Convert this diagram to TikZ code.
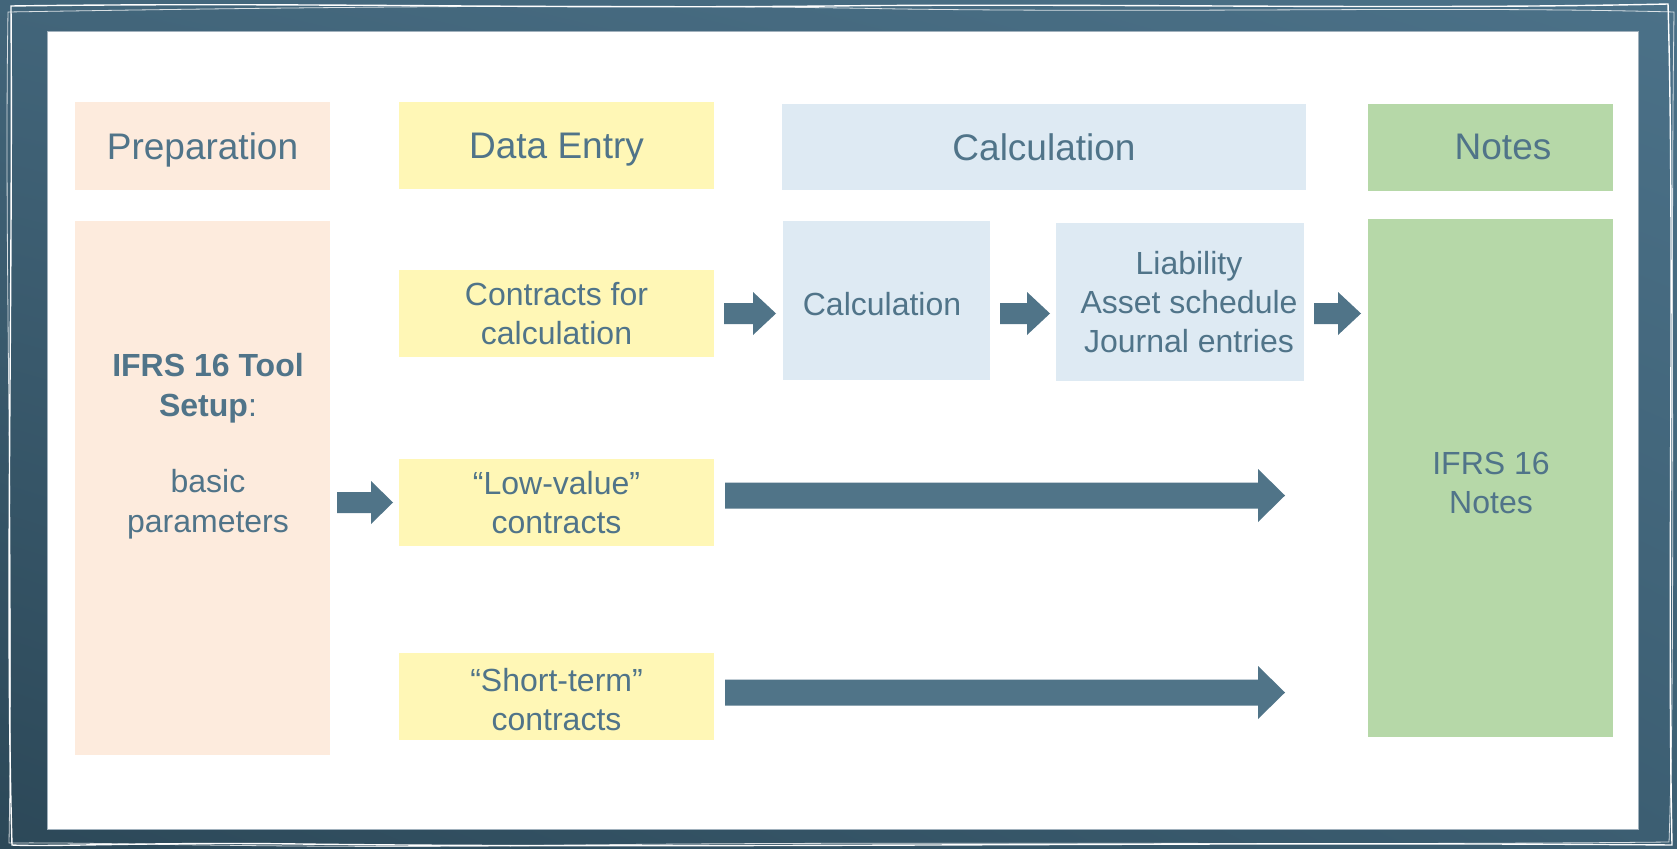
\documentclass[tikz,border=0pt]{standalone}
\usepackage{fontspec}
\setmainfont{Liberation Sans}
\usetikzlibrary{calc,shadings}
\definecolor{bgA}{RGB}{66,101,122}
\definecolor{bgB}{RGB}{75,113,136}
\definecolor{bgC}{RGB}{44,72,88}
\definecolor{bgD}{RGB}{60,94,114}
\definecolor{peach}{RGB}{253,235,221}
\definecolor{yel}{RGB}{255,247,182}
\definecolor{lblue}{RGB}{222,234,243}
\definecolor{lgreen}{RGB}{182,216,168}
\definecolor{txt}{RGB}{80,116,137}
\definecolor{arr}{RGB}{80,116,136}
\definecolor{panelline}{RGB}{160,176,188}
\begin{document}
\begin{tikzpicture}[x=1pt,y=-1pt,
  box/.style={rectangle,inner sep=0pt,outer sep=0pt,draw=none,text=txt,align=center,
    font=\fontsize{32}{39}\selectfont},
  head/.style={box,font=\fontsize{37}{44}\selectfont,text height=30pt,text depth=3.5pt},
  fat/.style n args={5}{to path={let \p1=(\tikztostart),\p2=(\tikztotarget) in
    ({\x1+#1pt},{\y2+#3pt}) -- ({\x2-#2pt-#5pt},{\y2+#3pt}) -- ({\x2-#2pt-#5pt},{\y2+#4pt})
    -- ({\x2-#2pt},\y2) -- ({\x2-#2pt-#5pt},{\y2-#4pt}) -- ({\x2-#2pt-#5pt},{\y2-#3pt})
    -- ({\x1+#1pt},{\y2-#3pt}) -- cycle}},
  smallarrow/.style={fat={10}{7}{10.5}{21.5}{23}},
  longarrow/.style={fat={11}{0}{13}{26.5}{27}}
]
\useasboundingbox (0,0) rectangle (1677,848);
% background
\shade[upper left=bgA,upper right=bgB,lower left=bgC,lower right=bgD] (0,0) rectangle (1677,848);
% hand drawn frame
\draw[white,line width=1.4pt] (11,6) .. controls (300,2) and (520,9) .. (830,6)
  .. controls (1100,3) and (1400,10) .. (1668,4)
  .. controls (1675,250) and (1667,600) .. (1672,845)
  .. controls (1200,841) and (700,849) .. (300,844)
  .. controls (150,842) and (50,847) .. (12,845)
  .. controls (5,600) and (13,300) .. cycle;
\draw[white,line width=0.8pt,opacity=0.8] (8,12) .. controls (250,8) and (600,3) .. (900,9)
  .. controls (1200,13) and (1450,6) .. (1674,12)
  .. controls (1670,300) and (1676,650) .. (1669,842)
  .. controls (1300,846) and (900,840) .. (500,846)
  .. controls (250,848) and (100,842) .. (9,843)
  .. controls (14,550) and (4,250) .. cycle;
% white panel
\fill[white] (47,32) rectangle (1638,829);
\draw[panelline,line width=1pt] (47,32) rectangle (1638,829);

% headers
\node[head,fill=peach,minimum width=255pt,minimum height=87pt] (prephead) at (202.5,146) {Preparation};
\node[head,fill=yel,minimum width=315pt,minimum height=87pt] (dehead) at (556.5,145.5) {Data Entry};
\node[head,fill=lblue,minimum width=524pt,minimum height=86pt] (calchead) at (1044,147) {Calculation};
\node[box,fill=lgreen,minimum width=245pt,minimum height=87pt] (noteshead) at (1490.5,147.5) {};
\node[head] (notestitle) at (1503,146) {Notes};

% preparation body
\node[box,fill=peach,minimum width=255pt,minimum height=534pt] (prep) at (202.5,488) {};
\node[box,font=\fontsize{32}{40}\selectfont] (preptext) at (208,446) {\textbf{IFRS 16 Tool}\\\textbf{Setup}:\\[36pt]basic\\parameters};

% data entry
\node[box,fill=yel,minimum width=315pt,minimum height=87pt] (cont) at (556.5,313.5) {Contracts for\\calculation};
\node[box,fill=yel,minimum width=315pt,minimum height=87pt] (lowv) at (556.5,502.5) {“Low-value”\\contracts};
\node[box,fill=yel,minimum width=315pt,minimum height=87pt] (short) at (556.5,696) {};
\node[box] (shorttext) at (556.5,700) {“Short-term”\\contracts};

% calculation
\node[box,fill=lblue,minimum width=207pt,minimum height=159pt] (calc) at (886.5,300.5) {};
\node[box,anchor=base] (calctext) at (882,315) {Calculation};
\node[box,fill=lblue,minimum width=248pt,minimum height=158pt] (liab) at (1180,302) {};
\node[box] (liabtext) at (1189,302) {Liability\\Asset schedule\\Journal entries};

% notes
\node[box,fill=lgreen,minimum width=245pt,minimum height=518pt] (notes) at (1490.5,478) {};
\node[box] (notestext) at (1491,483) {IFRS 16\\Notes};

% arrow ends
\coordinate (lvEnd) at (1285,495.5);
\coordinate (stEnd) at (1285,692.5);

% connectors
\fill[arr] (prep.east) to[fat={7}{6}{10.5}{21.5}{22}] (lowv.west);
\fill[arr] (cont.east) to[smallarrow] (calc.west |- cont.east);
\fill[arr] (calc.east |- cont.east) to[fat={10}{6}{10.5}{21.5}{23}] (liab.west |- cont.east);
\fill[arr] (liab.east |- cont.east) to[smallarrow] (notes.west |- cont.east);
\fill[arr] (lowv.east) to[longarrow] (lvEnd);
\fill[arr] (short.east) to[longarrow] (stEnd);
\end{tikzpicture}
\end{document}
